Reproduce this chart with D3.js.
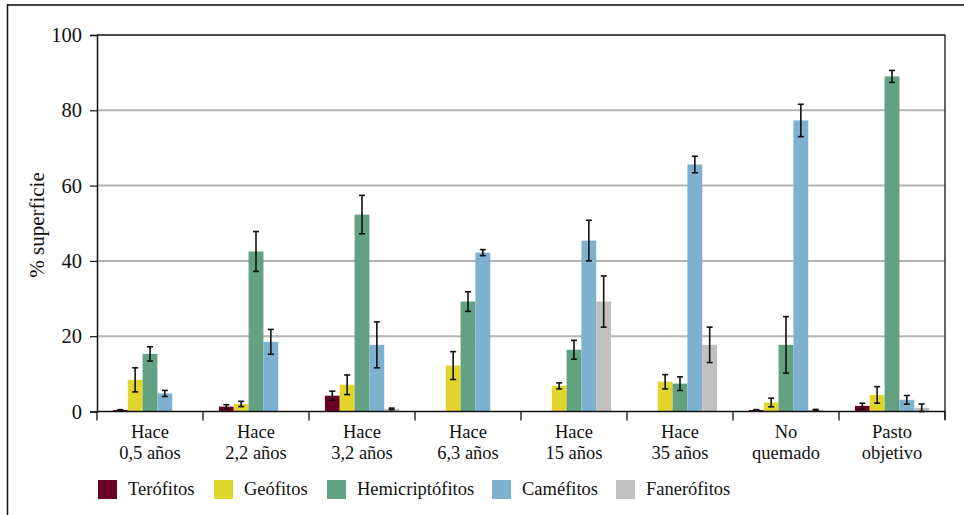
<!DOCTYPE html>
<html>
<head>
<meta charset="utf-8">
<script src="https://cdn.jsdelivr.net/npm/d3@7"></script>
<style>
  body { margin: 0; background: #fff; }
  svg { display: block; }
  svg text { font-family: "Liberation Serif", "Times New Roman", serif; }
</style>
</head>
<body>
<svg width="964" height="515"></svg>
<script>
// categories (two text lines each)
var categories = [
  ["Hace", "0,5 años"], ["Hace", "2,2 años"], ["Hace", "3,2 años"], ["Hace", "6,3 años"],
  ["Hace", "15 años"], ["Hace", "35 años"], ["No", "quemado"], ["Pasto", "objetivo"]
];
var series = ["Terófitos", "Geófitos", "Hemicriptófitos", "Caméfitos", "Fanerófitos"];
var colors = ["#6b0026", "#e2d62e", "#62a283", "#7eb0d0", "#c0c0c0"];

// values per series, one per category (0 = no bar)
var terofitos       = [0.4, 1.3, 4.2, 0,    0,    0,    0.4, 1.5];
var geofitos        = [8.4, 2.0, 7.1, 12.2, 6.8,  7.9,  2.4, 4.4];
var hemicriptofitos = [15.3, 42.5, 52.3, 29.2, 16.4, 7.4, 17.7, 89.0];
var camefitos       = [4.8, 18.5, 17.7, 42.2, 45.4, 65.6, 77.3, 3.1];
var fanerofitos     = [0,   0,    0.7,  0,    29.2, 17.7, 0.45, 1.0];

// error (+/-) per series
var errTerofitos       = [0.1, 0.5, 1.2, 0,   0,   0,   0.1, 0.7];
var errGeofitos        = [3.2, 0.7, 2.6, 3.7, 0.8, 1.9, 1.15, 2.2];
var errHemicriptofitos = [1.9, 5.3, 5.1, 2.6, 2.5, 1.8, 7.5, 1.6];
var errCamefitos       = [0.8, 3.3, 6.1, 0.8, 5.4, 2.2, 4.3, 1.15];
var errFanerofitos     = [0,   0,   0.2, 0,   6.8, 4.7, 0.1, 1.0];

var values = [terofitos, geofitos, hemicriptofitos, camefitos, fanerofitos];
var errors = [errTerofitos, errGeofitos, errHemicriptofitos, errCamefitos, errFanerofitos];
var yTicks = [0, 20, 40, 60, 80, 100];

var svg = d3.select("svg");
var plotLeft = 97, plotRight = 945, plotTop = 35, plotBottom = 411.5;

// outer frame (top and left visible)
svg.append("line").attr("x1", 7).attr("x2", 964).attr("y1", 5).attr("y2", 5)
   .attr("stroke", "#444").attr("stroke-width", 2);
svg.append("line").attr("x1", 7.5).attr("x2", 7.5).attr("y1", 4).attr("y2", 515)
   .attr("stroke", "#111").attr("stroke-width", 1.5);

var x0 = d3.scaleBand().domain(d3.range(categories.length)).range([plotLeft, plotRight]);
var x1 = d3.scaleBand().domain(d3.range(series.length))
           .range([x0.bandwidth() * 0.15, x0.bandwidth() * 0.85]);
var y = d3.scaleLinear().domain([0, 100]).range([plotBottom, plotTop]);

// gridlines
svg.append("g").selectAll("line")
   .data(yTicks.filter(d => d > 0 && d < 100))
   .enter().append("line")
   .attr("x1", plotLeft).attr("x2", plotRight)
   .attr("y1", d => y(d)).attr("y2", d => y(d))
   .attr("stroke", "#b4b4b4").attr("stroke-width", 2);

// plot box top and right
svg.append("line").attr("x1", plotLeft).attr("x2", plotRight + 0.5).attr("y1", y(100)).attr("y2", y(100))
   .attr("stroke", "#111").attr("stroke-width", 1.5);
svg.append("line").attr("x1", plotRight).attr("x2", plotRight).attr("y1", y(100)).attr("y2", plotBottom + 8)
   .attr("stroke", "#333").attr("stroke-width", 1.5);

// bars
var groups = svg.append("g").selectAll("g")
   .data(categories).enter().append("g")
   .attr("transform", (d, i) => "translate(" + x0(i) + ",0)");

groups.selectAll("rect")
   .data((d, i) => series.map((s, j) => ({ j: j, v: values[j][i], e: errors[j][i] })))
   .enter().append("rect")
   .attr("x", d => x1(d.j))
   .attr("width", x1.bandwidth())
   .attr("y", d => y(d.v))
   .attr("height", d => y(0) - y(d.v))
   .attr("fill", d => colors[d.j]);

// error bars
var eb = groups.selectAll(".err")
   .data((d, i) => series.map((s, j) => ({ j: j, v: values[j][i], e: errors[j][i] }))
                         .filter(d => d.v > 0))
   .enter().append("g").attr("class", "err")
   .attr("stroke", "#111").attr("stroke-width", 1.6);
eb.append("line")
   .attr("x1", d => x1(d.j) + x1.bandwidth() / 2).attr("x2", d => x1(d.j) + x1.bandwidth() / 2)
   .attr("y1", d => y(d.v + d.e)).attr("y2", d => y(Math.max(0, d.v - d.e)));
eb.append("line")
   .attr("x1", d => x1(d.j) + x1.bandwidth() / 2 - 3).attr("x2", d => x1(d.j) + x1.bandwidth() / 2 + 3)
   .attr("y1", d => y(d.v + d.e)).attr("y2", d => y(d.v + d.e));
eb.append("line")
   .attr("x1", d => x1(d.j) + x1.bandwidth() / 2 - 3).attr("x2", d => x1(d.j) + x1.bandwidth() / 2 + 3)
   .attr("y1", d => y(Math.max(0, d.v - d.e))).attr("y2", d => y(Math.max(0, d.v - d.e)));

// y axis
var yAxis = svg.append("g").attr("transform", "translate(" + plotLeft + ",0)")
   .call(d3.axisLeft(y).tickValues(yTicks).tickSize(7).tickPadding(8));
yAxis.select(".domain").attr("stroke", "#111").attr("stroke-width", 1.5);
yAxis.selectAll(".tick line").attr("stroke", "#111").attr("stroke-width", 1.2);
yAxis.selectAll("text").attr("font-size", 20.5).attr("fill", "#111")
   .attr("font-family", "Liberation Serif, serif");

// x axis: baseline and ticks at category boundaries
svg.append("line").attr("x1", plotLeft).attr("x2", plotRight).attr("y1", plotBottom).attr("y2", plotBottom)
   .attr("stroke", "#111").attr("stroke-width", 1.5);
svg.append("g").selectAll("line")
   .data(d3.range(categories.length + 1))
   .enter().append("line")
   .attr("x1", i => plotLeft + i * x0.bandwidth()).attr("x2", i => plotLeft + i * x0.bandwidth())
   .attr("y1", plotBottom).attr("y2", plotBottom + 9)
   .attr("stroke", "#111").attr("stroke-width", 1.3);

var labels = svg.append("g").selectAll("text")
   .data(categories).enter().append("text")
   .attr("text-anchor", "middle").attr("font-size", 18.5).attr("fill", "#111");
labels.append("tspan").attr("x", (d, i) => x0(i) + x0.bandwidth() / 2).attr("y", 438).text(d => d[0]);
labels.append("tspan").attr("x", (d, i) => x0(i) + x0.bandwidth() / 2).attr("y", 459).text(d => d[1]);

// y title
svg.append("text").attr("transform", "translate(44,225) rotate(-90)")
   .attr("text-anchor", "middle").attr("font-size", 21).attr("fill", "#111")
   .text("% superficie");

// legend
var legendX = [98, 214, 327, 492, 616];
var lg = svg.append("g").selectAll("g")
   .data(series).enter().append("g")
   .attr("transform", (d, i) => "translate(" + legendX[i] + ",480)");
lg.append("rect").attr("width", 19).attr("height", 19).attr("fill", (d, i) => colors[i]);
lg.append("text").attr("x", 30).attr("y", 15).attr("font-size", 18.5).attr("fill", "#111").text(d => d);
</script>
</body>
</html>
